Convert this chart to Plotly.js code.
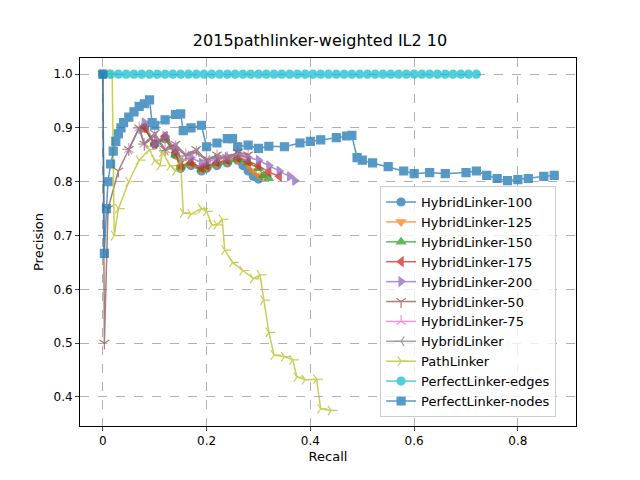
<!DOCTYPE html>
<html>
<head>
<script src="https://cdn.plot.ly/plotly-3.0.1.min.js"></script>
<style>body{margin:0}#myDiv{width:640px;height:480px}</style>
</head>
<body>
<div id="myDiv"></div>
<script>
var names = ['HybridLinker-100','HybridLinker-125','HybridLinker-150','HybridLinker-175','HybridLinker-200',
  'HybridLinker-50','HybridLinker-75','HybridLinker','PathLinker','PerfectLinker-edges','PerfectLinker-nodes'];
var colors = ['#1f77b4','#ff7f0e','#2ca02c','#d62728','#9467bd','#8c564b','#e377c2','#7f7f7f','#bcbd22','#17becf','#1f77b4'];
var symbols = ['circle','triangle-down','triangle-up','triangle-left','triangle-right','y-down','y-up','y-left','y-right','circle','square'];

var hl100X = [0.08,0.1,0.12,0.14,0.15,0.17,0.19,0.2,0.22,0.24,0.26,0.27,0.28,0.29,0.3];
var hl100Y = [0.9,0.87,0.88,0.85,0.825,0.83,0.82,0.825,0.83,0.835,0.84,0.83,0.82,0.81,0.805];
var hl125X = [0.08,0.1,0.12,0.14,0.15,0.17,0.19,0.2,0.22,0.24,0.26,0.28,0.29,0.3,0.31];
var hl125Y = [0.9,0.87,0.88,0.85,0.826,0.832,0.822,0.826,0.832,0.836,0.84,0.83,0.82,0.812,0.81];
var hl150X = [0.08,0.1,0.12,0.14,0.15,0.17,0.19,0.2,0.22,0.24,0.26,0.28,0.3,0.31,0.32];
var hl150Y = [0.9,0.87,0.88,0.85,0.828,0.834,0.823,0.828,0.834,0.838,0.842,0.835,0.825,0.812,0.806];
var hl175X = [0.08,0.1,0.12,0.14,0.15,0.17,0.19,0.2,0.22,0.24,0.26,0.28,0.3,0.32,0.34];
var hl175Y = [0.9,0.87,0.885,0.855,0.83,0.836,0.826,0.83,0.836,0.84,0.845,0.838,0.83,0.818,0.81];
var hl200X = [0.08,0.1,0.12,0.14,0.15,0.17,0.19,0.2,0.22,0.24,0.26,0.28,0.3,0.32,0.34,0.36,0.37];
var hl200Y = [0.91,0.87,0.885,0.86,0.84,0.845,0.835,0.838,0.842,0.846,0.85,0.845,0.84,0.83,0.82,0.81,0.802];
var hl50X = [0,0.003,0.01,0.03,0.05,0.07,0.08,0.1,0.12,0.14,0.16,0.18,0.2,0.22,0.24,0.26,0.28];
var hl50Y = [1,0.5,0.75,0.82,0.86,0.9,0.87,0.89,0.86,0.87,0.85,0.86,0.84,0.85,0.845,0.855,0.85];
var hl75X = [0.05,0.07,0.08,0.1,0.12,0.14,0.16,0.18,0.2,0.22,0.24,0.26,0.28];
var hl75Y = [0.86,0.9,0.87,0.885,0.86,0.865,0.85,0.855,0.84,0.848,0.845,0.852,0.848];
var hlX = [0.05,0.07,0.08,0.1,0.12,0.14,0.16,0.18,0.2,0.22,0.24,0.26,0.28];
var hlY = [0.86,0.9,0.87,0.885,0.858,0.865,0.848,0.855,0.84,0.846,0.843,0.85,0.846];
var plX = [0,0.01,0.018,0.022,0.03,0.05,0.07,0.09,0.1,0.11,0.115,0.13,0.14,0.15,0.155,0.17,0.19,0.2,0.21,0.22,0.23,0.235,0.25,0.27,0.29,0.303,0.31,0.32,0.33,0.35,0.366,0.374,0.39,0.412,0.42,0.44];
var plY = [1,1,1,0.7,0.75,0.8,0.84,0.86,0.84,0.83,0.855,0.83,0.82,0.84,0.742,0.74,0.75,0.745,0.72,0.72,0.73,0.673,0.65,0.635,0.62,0.627,0.58,0.52,0.478,0.475,0.469,0.437,0.432,0.433,0.378,0.375];
var edgesX = [0,0.015,0.03,0.045,0.06,0.075,0.09,0.105,0.12,0.135,0.15,0.165,0.18,0.195,0.21,0.225,0.24,0.255,0.27,0.285,0.3,0.315,0.33,0.345,0.36,0.375,0.39,0.405,0.42,0.435,0.45,0.465,0.48,0.495,0.51,0.525,0.54,0.555,0.57,0.585,0.6,0.615,0.63,0.645,0.66,0.675,0.69,0.705,0.72];
var edgesY = [1,1,1,1,1,1,1,1,1,1,1,1,1,1,1,1,1,1,1,1,1,1,1,1,1,1,1,1,1,1,1,1,1,1,1,1,1,1,1,1,1,1,1,1,1,1,1,1,1];
var nodesX = [0,0.003,0.007,0.01,0.015,0.02,0.025,0.03,0.035,0.04,0.05,0.06,0.07,0.08,0.09,0.095,0.1,0.12,0.14,0.15,0.155,0.17,0.19,0.2,0.22,0.24,0.25,0.26,0.28,0.3,0.32,0.35,0.38,0.4,0.42,0.45,0.47,0.48,0.49,0.5,0.52,0.55,0.58,0.6,0.63,0.66,0.7,0.72,0.74,0.76,0.78,0.8,0.82,0.85,0.87];
var nodesY = [1.0,0.667,0.75,0.8,0.833,0.857,0.875,0.889,0.9,0.91,0.92,0.93,0.94,0.945,0.952,0.91,0.905,0.915,0.925,0.926,0.895,0.9,0.905,0.865,0.872,0.88,0.88,0.865,0.868,0.862,0.866,0.865,0.872,0.875,0.878,0.882,0.885,0.886,0.845,0.84,0.835,0.828,0.82,0.815,0.817,0.815,0.817,0.82,0.812,0.806,0.802,0.804,0.806,0.81,0.812];

var xs = [hl100X,hl125X,hl150X,hl175X,hl200X,hl50X,hl75X,hlX,plX,edgesX,nodesX];
var ys = [hl100Y,hl125Y,hl150Y,hl175Y,hl200Y,hl50Y,hl75Y,hlY,plY,edgesY,nodesY];

var data = [];
for (var i = 0; i < names.length; i++) {
  data.push({
    x: xs[i], y: ys[i], name: names[i], type: 'scatter', mode: 'lines+markers',
    opacity: 0.75,
    line: {color: colors[i], width: 1.5},
    marker: {symbol: symbols[i], size: 8, color: colors[i], line: {color: colors[i], width: 1.2}}
  });
}

var grid = {showgrid: true, gridcolor: '#b0b0b0', griddash: 'dash', zeroline: false,
  showline: true, linecolor: 'black', mirror: true, ticks: 'outside', ticklen: 4,
  tickfont: {size: 12, color: 'black'}};

var layout = {
  width: 640, height: 480,
  margin: {l: 80, r: 64, t: 58, b: 54},
  font: {family: 'DejaVu Sans', color: 'black'},
  title: {text: '2015pathlinker-weighted IL2 10', font: {size: 16}, y: 0.915, yanchor: 'middle'},
  xaxis: Object.assign({}, grid, {range: [-0.044, 0.912], tickvals: [0,0.2,0.4,0.6,0.8],
    title: {text: 'Recall', font: {size: 13}, standoff: 4}}),
  yaxis: Object.assign({}, grid, {range: [0.346, 1.03], tickvals: [0.4,0.5,0.6,0.7,0.8,0.9,1.0],
    tickformat: '.1f', title: {text: 'Precision', font: {size: 13}, standoff: 6}}),
  legend: {x: 0.605, y: 0.652, xanchor: 'left', yanchor: 'top', bgcolor: 'rgba(255,255,255,0.8)',
    bordercolor: '#cccccc', borderwidth: 1, font: {size: 13}, tracegroupgap: 0},
  showlegend: true,
  plot_bgcolor: 'white', paper_bgcolor: 'white'
};

Plotly.newPlot('myDiv', data, layout, {displayModeBar: false});
</script>
</body>
</html>
